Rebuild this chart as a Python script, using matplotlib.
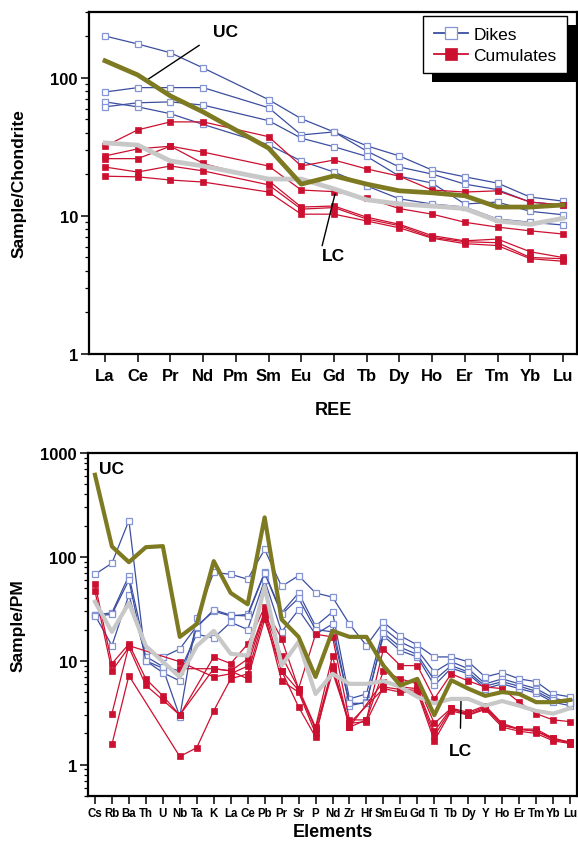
import numpy as np
import matplotlib
matplotlib.use("Agg")
import matplotlib.pyplot as plt
from matplotlib.patches import Rectangle
from matplotlib.lines import Line2D
from matplotlib.ticker import LogLocator, NullFormatter, FixedLocator

plt.rcParams['font.family'] = ['Liberation Sans', 'DejaVu Sans']

nan = np.nan

# ---------------- REE (chondrite normalised) ----------------
ree = ["La", "Ce", "Pr", "Nd", "Pm", "Sm", "Eu", "Gd", "Tb", "Dy", "Ho", "Er", "Tm", "Yb", "Lu"]

ree_dikes = [
    [201, 176, 152, 118, nan, 69.6, 50.6, 40.6, 32.2, 27.2, 21.5, 19.2, 17.3, 13.7, 12.8],
    [79, 85, 85, 85, nan, 60.8, 38.6, 40.6, 29.5, 22.6, 20.1, 17.0, 15.5, 12.6, 12.0],
    [67, 61.7, 55, 46, nan, 32.8, 25.0, 20.8, 16.5, 13.3, 12.2, 11.6, 9.5, 9.0, 8.6],
    [61.7, 66, 67, 63.5, nan, 49, 36.6, 31.7, 27.0, 19.4, 17.3, 12.2, 12.6, 10.8, 10.2],
]
ree_cumulates = [
    [32, 42, 48, 48, nan, 37.5, 23, 25.4, 21.9, 19.4, 15.4, 14.9, 15.2, 12.6, 12.0],
    [27.2, 30.6, 32, 29, nan, 23, 15.4, 15.0, 13.5, 11.3, 10.3, 9.0, 8.3, 7.8, 7.4],
    [26, 26, 32, 24, nan, 18, 11.6, 11.8, 9.8, 8.7, 7.2, 6.6, 6.8, 5.5, 5.0],
    [22.6, 20.8, 23, 21.2, nan, 16.8, 11.2, 11.5, 9.5, 8.5, 7.0, 6.5, 6.4, 5.0, 4.9],
    [19.4, 19.2, 18.2, 17.6, nan, 14.9, 10.3, 10.3, 9.2, 8.2, 6.9, 6.3, 6.1, 4.9, 4.7],
]
ree_uc = [133, 105, 74, 56.6, nan, 31, 17, 19.5, 17.0, 15.2, 14.7, 14.0, 11.6, 11.6, 12.0]
ree_lc = [33.8, 32.6, 25, 23, nan, 18.5, 18.5, 15.7, 13.1, 12.2, 11.8, 11.3, 9.2, 8.7, 9.6]

# ---------------- Spider (primitive mantle normalised) ----------------
elems = ["Cs", "Rb", "Ba", "Th", "U", "Nb", "Ta", "K", "La", "Ce", "Pb", "Pr", "Sr", "P", "Nd",
         "Zr", "Hf", "Sm", "Eu", "Gd", "Ti", "Tb", "Dy", "Y", "Ho", "Er", "Tm", "Yb", "Lu"]

pm_dikes = [
    [68, 87, 224, 10, 8.5, 2.9, 26, 71, 68, 61, 118, 52, 66, 45, 41, 22.6, 14, 23.5, 17.4, 14.2, 10.9, 10.9, 9.8, 7.0, 7.7, 6.7, 6.3, 4.8, 4.5],
    [27.5, 29, 66, 12.3, 10.9, 13, 21.6, 30, 27, 28, 71, 29, 45, 21.6, 29.5, 4.3, 4.8, 20.6, 15.2, 12.7, 7.8, 9.8, 8.4, 6.0, 6.7, 6.0, 5.4, 4.4, 4.0],
    [27.5, 14, 43, 11, 8.8, 8.0, 18, 16.6, 23.5, 20, 60, 19, 31, 18, 22.6, 3.7, 4.0, 17.4, 12.5, 10.9, 5.8, 8.5, 7.5, 5.4, 6.0, 5.4, 4.9, 4.0, 3.7],
    [27, 28, 60, 10, 7.7, 6.4, 21, 31, 27.5, 27, 70, 28, 40, 20, 19, 3.9, 3.9, 18.5, 13.5, 11.5, 6.5, 9.0, 7.8, 5.7, 6.3, 5.7, 5.1, 4.2, 3.9],
]
pm_cumulates = [
    [55, 9.4, 14.5, 6.7, 4.6, 3.0, nan, 10.9, 9.4, 14.5, 33, 16.3, 5.4, 18, 17, 2.7, 2.7, 13, 9.0, 9.0, 4.3, 7.5, 6.4, 5.6, 5.4, 4.0, 3.1, 2.7, 2.6],
    [47, 8.0, 13.5, 5.8, 4.2, 3.0, nan, 8.4, 8.0, 10.4, 30, 11.2, 5.4, 2.3, 11.2, 2.3, 2.7, 8.0, 6.7, 6.0, 2.5, 3.5, 3.2, 3.7, 2.5, 2.2, 2.2, 1.8, 1.65],
    [nan, 3.1, 14, nan, nan, 9.8, nan, 7.0, 7.5, 8.9, 30, 8.0, 3.6, 1.85, 9.0, 2.3, nan, 6.3, 5.6, 5.4, 2.1, 3.5, 3.0, 3.5, 2.4, 2.2, 2.1, 1.8, 1.6],
    [nan, 1.57, 7.2, nan, nan, 1.2, 1.46, 3.3, 6.7, 7.5, 28, 6.4, 5.0, 2.0, 7.8, 2.5, nan, 5.4, 5.0, 5.0, 1.7, 3.3, 3.0, 3.4, 2.3, 2.1, 2.0, 1.7, 1.6],
    [nan, nan, nan, nan, nan, 8.4, nan, 8.4, 8.0, 6.7, 25, 8.0, 5.2, 2.2, 8.4, 2.5, 2.6, 5.6, 5.3, 5.2, 1.9, 3.4, 3.1, 3.6, 2.4, 2.2, 2.1, 1.75, 1.65],
]
pm_uc = [617, 126, 89, 124, 127, 17, 22.6, 91, 45, 35, 240, 25, 17, 7.0, 19.4, 17, 17, 9.0, 5.8, 6.7, 3.0, 6.5, 5.4, 4.6, 5.0, 4.8, 4.0, 4.0, 4.2]
pm_lc = [37, 19, 36, 13.9, 9.8, 7.0, 13.9, 19.4, 11.7, 11.2, 52, 9.0, 15.2, 4.8, 7.5, 6.0, 6.0, 6.4, 5.6, 4.5, 3.9, 4.3, 4.3, 3.7, 4.1, 3.7, 3.3, 3.1, 3.5]

BLUE = "#3b4ea0"
BLUE_MK = "#8494d4"
RED = "#cc1030"
OLIVE = "#7d7a22"
GRAY = "#c8c8c8"


def plot_series(ax, vals, **kw):
    v = np.array(vals, dtype=float)
    x = np.arange(len(v))
    m = ~np.isnan(v)
    return ax.plot(x[m], v[m], **kw)


fig = plt.figure(figsize=(5.78, 8.45), dpi=100)
W, H = 578, 845
ax1 = fig.add_axes([89 / W, (H - 355) / H, 488 / W, 342 / H])
ax2 = fig.add_axes([88 / W, (H - 797) / H, 489 / W, 343 / H])

dike_kw = dict(color=BLUE, lw=0.9, marker='s', ms=5, mfc='white', mec=BLUE_MK, mew=0.9)
cum_kw = dict(color=RED, lw=0.9, marker='s', ms=5, mfc=RED, mec=RED, mew=0.5)

# ---- top panel ----
for s in ree_dikes:
    plot_series(ax1, s, zorder=3, **dike_kw)
for s in ree_cumulates:
    plot_series(ax1, s, zorder=3, **cum_kw)
plot_series(ax1, ree_lc, color=GRAY, lw=3.4, zorder=4, solid_joinstyle='round')
plot_series(ax1, ree_uc, color=OLIVE, lw=3.4, zorder=5, solid_joinstyle='round')

ax1.set_yscale('log')
ax1.set_ylim(1, 300)
ax1.set_xlim(-0.49, 14.43)
ax1.xaxis.set_major_locator(FixedLocator(range(len(ree))))
ax1.set_xticklabels(ree, fontsize=12, fontweight='bold')
ax1.set_yticks([1, 10, 100])
ax1.set_yticklabels(['1', '10', '100'], fontsize=12, fontweight='bold')
ax1.yaxis.set_minor_locator(LogLocator(base=10, subs=np.arange(2, 10)))
ax1.yaxis.set_minor_formatter(NullFormatter())
ax1.set_ylabel('Sample/Chondrite', fontsize=12.5, fontweight='bold')
ax1.yaxis.set_label_coords(-0.128, 0.5)
ax1.set_xlabel('REE', fontsize=13, fontweight='bold')
ax1.xaxis.set_label_coords(0.5, -0.138)

ax1.annotate('UC', xy=(147, H - 81), xycoords='figure pixels', xytext=(225, H - 33),
             textcoords='figure pixels', fontsize=12.5, fontweight='bold', ha='center', va='center',
             arrowprops=dict(arrowstyle='-', color='black', lw=1, shrinkA=9, shrinkB=0,
                             relpos=(0.0, 0.2)))
ax1.annotate('LC', xy=(335, H - 195), xycoords='figure pixels', xytext=(333, H - 257),
             textcoords='figure pixels', fontsize=12.5, fontweight='bold', ha='center', va='center',
             arrowprops=dict(arrowstyle='-', color='black', lw=1, shrinkA=0, shrinkB=0,
                             relpos=(0.0, 1.0)))

handles = [Line2D([], [], **dike_kw), Line2D([], [], **cum_kw)]
for h in handles:
    h.set_markersize(9)
    h.set_linewidth(1.3)
leg = ax1.legend(handles, ['Dikes', 'Cumulates'], loc='upper right', bbox_to_anchor=(0.98, 0.988),
                 borderaxespad=0, fontsize=12.5, fancybox=False, framealpha=1, edgecolor='black',
                 handlelength=2.0, handletextpad=0.3, borderpad=0.6, labelspacing=0.35)
leg.get_frame().set_linewidth(1.0)
leg.set_zorder(10)

# ---- bottom panel ----
for s in pm_dikes:
    plot_series(ax2, s, zorder=3, **dike_kw)
for s in pm_cumulates:
    plot_series(ax2, s, zorder=3, **dict(cum_kw, ms=4.5))
plot_series(ax2, pm_lc, color=GRAY, lw=3.0, zorder=4, solid_joinstyle='round')
plot_series(ax2, pm_uc, color=OLIVE, lw=3.0, zorder=5, solid_joinstyle='round')

ax2.set_yscale('log')
ax2.set_ylim(0.5, 1000)
ax2.set_xlim(-0.41, 28.41)
ax2.xaxis.set_major_locator(FixedLocator(range(len(elems))))
ax2.set_xticklabels(elems, fontsize=8.3, fontweight='bold')
ax2.set_yticks([1, 10, 100, 1000])
ax2.set_yticklabels(['1', '10', '100', '1000'], fontsize=12, fontweight='bold')
ax2.yaxis.set_minor_locator(LogLocator(base=10, subs=np.arange(2, 10)))
ax2.yaxis.set_minor_formatter(NullFormatter())
ax2.set_ylabel('Sample/PM', fontsize=12.5, fontweight='bold')
ax2.yaxis.set_label_coords(-0.128, 0.5)
ax2.set_xlabel('Elements', fontsize=13, fontweight='bold')
ax2.xaxis.set_label_coords(0.5, -0.078)

ax2.text(112, H - 470, 'UC', transform=None, fontsize=12.5, fontweight='bold', ha='center', va='center')
ax2.annotate('LC', xy=(461, H - 702), xycoords='figure pixels', xytext=(460, H - 752),
             textcoords='figure pixels', fontsize=12.5, fontweight='bold', ha='center', va='center',
             arrowprops=dict(arrowstyle='-', color='black', lw=1, shrinkA=9, shrinkB=0))

for ax in (ax1, ax2):
    for sp in ax.spines.values():
        sp.set_linewidth(1.6)
    ax.tick_params(axis='both', which='major', direction='out', length=6, width=1.1, pad=2)
    ax.tick_params(axis='y', which='minor', direction='out', length=3, width=0.9)
    ax.tick_params(axis='x', which='minor', bottom=False)
ax1.tick_params(axis='x', pad=4)

# black drop shadow of the legend
fig.canvas.draw()
bb = leg.get_window_extent()
shadow = Rectangle((bb.x0 + 9, bb.y0 - 9), bb.width, bb.height, transform=None,
                   facecolor='black', edgecolor='none', zorder=9, clip_on=False)
ax1.add_artist(shadow)

fig.savefig('out.png', dpi=100)
